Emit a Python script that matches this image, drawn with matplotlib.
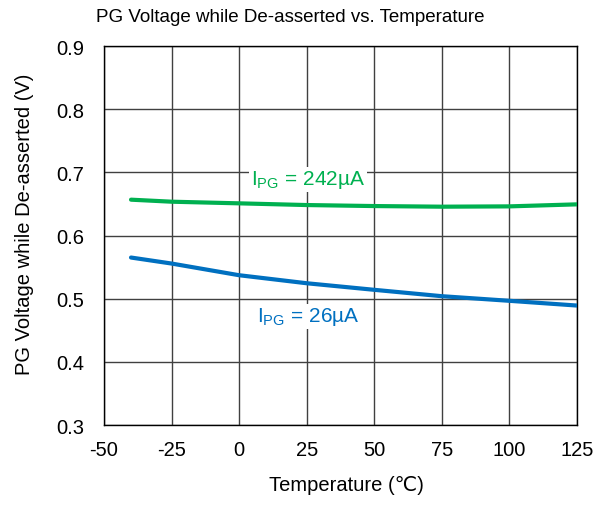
import matplotlib
matplotlib.use("Agg")
import matplotlib.pyplot as plt

plt.rcParams["font.family"] = ["Liberation Sans", "DejaVu Sans"]
plt.rcParams["mathtext.fontset"] = "custom"
plt.rcParams["mathtext.rm"] = "Liberation Sans"
plt.rcParams["axes.unicode_minus"] = False

temps = [-40, -25, 0, 25, 50, 75, 100, 125]
v_242 = [0.6568, 0.6536, 0.651, 0.6483, 0.6467, 0.6457, 0.6462, 0.6494]
v_26 = [0.5652, 0.5557, 0.5372, 0.5245, 0.5141, 0.504, 0.4967, 0.4892]

x_ticks = [-50, -25, 0, 25, 50, 75, 100, 125]
y_ticks = [0.3, 0.4, 0.5, 0.6, 0.7, 0.8, 0.9]

fig = plt.figure(figsize=(6.06, 5.06), dpi=100)
ax = fig.add_axes([0.1716, 0.158, 0.7804, 0.749])

ax.plot(temps, v_242, color="#00B050", lw=3, solid_capstyle="round", zorder=3)
ax.plot(temps, v_26, color="#0070C0", lw=3, solid_capstyle="round", zorder=3)

ax.set_xlim(-50, 125)
ax.set_ylim(0.3, 0.9)
ax.set_xticks(x_ticks)
ax.set_yticks(y_ticks)
ax.set_yticklabels([f"{v:.1f}" for v in y_ticks])
ax.tick_params(labelsize=14.5, length=0)
ax.tick_params(axis="y", pad=14)
ax.tick_params(axis="x", pad=11)
ax.grid(True, color="#404040", lw=1)
for s in ax.spines.values():
    s.set_color("black")
    s.set_linewidth(1)

ax.text(25.5, 0.689, r"$\mathregular{I_{PG}}$ = 242µA", color="#00B050", fontsize=15,
        ha="center", va="center", zorder=4,
        bbox=dict(facecolor="white", edgecolor="none", pad=1))
ax.text(25.5, 0.472, r"$\mathregular{I_{PG}}$ = 26µA", color="#0070C0", fontsize=15,
        ha="center", va="center", zorder=4,
        bbox=dict(facecolor="white", edgecolor="none", pad=1))

fig.text(290 / 606, 1 - 17 / 506, "PG Voltage while De-asserted vs. Temperature",
         ha="center", va="center", fontsize=13.5)
fig.text(346 / 606, 1 - 486 / 506, "Temperature (℃)",
         ha="center", va="center", fontsize=14.5)
fig.text(25 / 606, 1 - 224 / 506, "PG Voltage while De-asserted (V)",
         ha="center", va="center", rotation=90, fontsize=14.5)

fig.savefig("out.png", dpi=100)
